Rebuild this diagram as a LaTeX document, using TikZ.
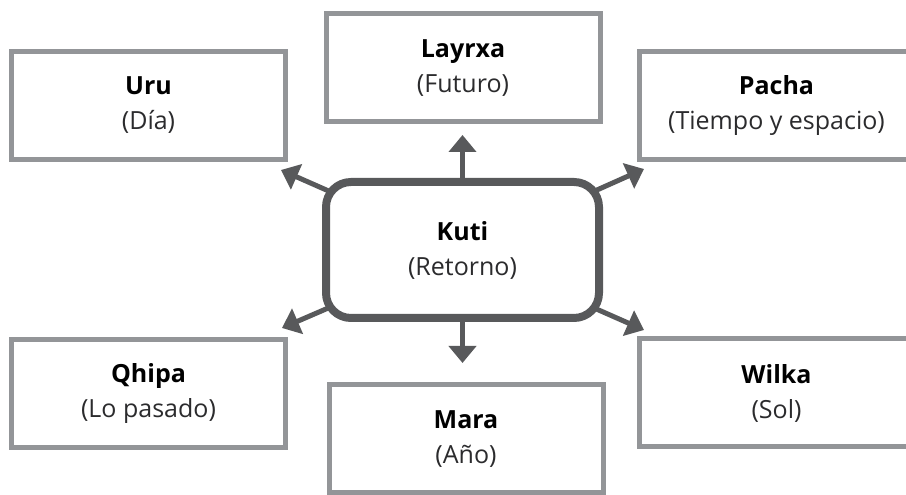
\documentclass[tikz,border=0pt]{standalone}
\usepackage{fontspec}
\setmainfont{Open Sans}
\usetikzlibrary{arrows.meta,backgrounds}
\definecolor{hubC}{HTML}{58595B}
\definecolor{boxC}{HTML}{939598}
\definecolor{subC}{HTML}{2B2B2D}
\tikzset{
  >={Triangle[length=17pt,width=27pt]},
  term/.style={draw=boxC,line width=5pt,fill=white,minimum width=274pt,
    minimum height=108pt,align=center,inner sep=0pt,
    font=\fontsize{25}{35}\selectfont},
  hub/.style={draw=hubC,line width=8pt,fill=white,rounded corners=25pt,
    minimum width=273pt,minimum height=136pt,align=center,inner sep=0pt,
    font=\fontsize{25}{35}\selectfont},
  spoke/.style={->,hubC,line width=5pt},
}
\newcommand{\pair}[2]{{\bfseries #1}\\{\color{subC}(#2)}}

\begin{document}
\begin{tikzpicture}[x=1pt,y=1pt]
\useasboundingbox (0,0) rectangle (906,495);

% centre
\node[hub] (kuti) at (462.5,245) {\pair{Kuti}{Retorno}};

% outer terms
\node[term] (uru)    at (148.5,389.5) {\pair{Uru}{Día}};
\node[term] (layrxa) at (463,427)     {\pair{Layrxa}{Futuro}};
\node[term] (pacha)  at (776.5,389.5) {\pair{Pacha}{Tiempo y espacio}};
\node[term] (qhipa)  at (148.5,101.5) {\pair{Qhipa}{Lo pasado}};
\node[term] (mara)   at (466,56)      {\pair{Mara}{Año}};
\node[term] (wilka)  at (776.5,102)   {\pair{Wilka}{Sol}};

% arrow tips
\coordinate (tN)  at (462.5,360);
\coordinate (tS)  at (462.5,132);
\coordinate (tNW) at (281,325);
\coordinate (tNE) at (644,326);
\coordinate (tSW) at (282,167);
\coordinate (tSE) at (644,165);

\begin{scope}[on background layer]
\foreach \t in {tN,tS,tNW,tNE,tSW,tSE}
  \draw[spoke] (kuti.center) -- (\t);
\end{scope}

\end{tikzpicture}
\end{document}
